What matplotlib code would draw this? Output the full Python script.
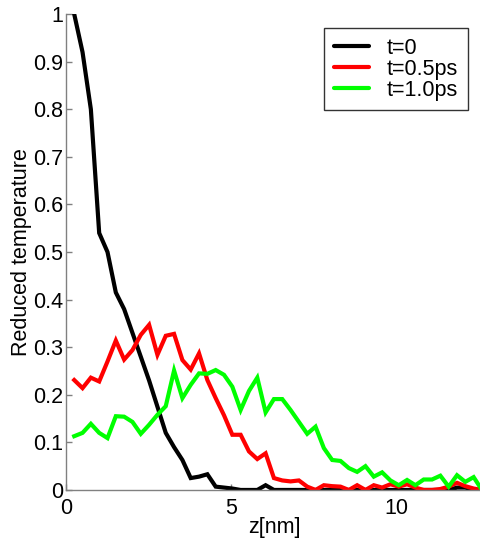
import numpy as np
import matplotlib.pyplot as plt

plt.rcParams['font.family'] = ['Liberation Sans', 'DejaVu Sans']

# grid spacing along z (nm), 50 slabs
dz = 0.252
k = np.arange(1, 51)
z = dz * k

t0 = [1.0, 0.92, 0.80, 0.54, 0.50, 0.415, 0.38, 0.33, 0.28, 0.23,
      0.175, 0.12, 0.09, 0.063, 0.025, 0.028, 0.033, 0.007, 0.005, 0.003,
      0.0, 0.0, 0.0, 0.01, 0.0, 0.0, 0.0, 0.0, 0.0, 0.0,
      0.0, 0.0, 0.0, 0.0, 0.0, 0.0, 0.0, 0.0, 0.0, 0.0,
      0.0, 0.0, 0.0, 0.0, 0.0, 0.0, 0.005, 0.005, 0.0, 0.0]

t05 = [0.231, 0.214, 0.236, 0.228, 0.27, 0.314, 0.274, 0.294, 0.326, 0.347,
       0.284, 0.324, 0.328, 0.273, 0.253, 0.287, 0.231, 0.193, 0.157, 0.116,
       0.116, 0.081, 0.065, 0.077, 0.025, 0.02, 0.018, 0.02, 0.007, 0.0,
       0.01, 0.008, 0.007, 0.0, 0.01, 0.0, 0.01, 0.005, 0.012, 0.007,
       0.012, 0.005, 0.0, 0.0, 0.002, 0.007, 0.015, 0.008, 0.003, 0.0]

t10 = [0.113, 0.12, 0.139, 0.12, 0.109, 0.155, 0.154, 0.143, 0.118, 0.137,
       0.158, 0.176, 0.251, 0.193, 0.221, 0.245, 0.244, 0.252, 0.242, 0.217,
       0.168, 0.208, 0.236, 0.163, 0.191, 0.191, 0.168, 0.143, 0.118, 0.133,
       0.088, 0.063, 0.061, 0.046, 0.038, 0.05, 0.028, 0.037, 0.02, 0.01,
       0.021, 0.01, 0.022, 0.022, 0.03, 0.007, 0.031, 0.017, 0.027, 0.0]

labels = ['t=0', 't=0.5ps', 't=1.0ps']
colors = ['black', 'red', '#00ff00']

fig = plt.figure(figsize=(4.81, 5.42), dpi=100)
ax = fig.add_axes([0.137, 0.096, 0.865, 0.878])

for y, lab, c in zip([t0, t05, t10], labels, colors):
    ax.plot(z, y, color=c, lw=3, label=lab, solid_joinstyle='miter')

ax.set_xlim(0, 12.6)
ax.set_ylim(0, 1)
ax.set_xticks([0, 5, 10])
ax.set_yticks(np.arange(0, 1.01, 0.1))
ax.set_yticklabels(['0', '0.1', '0.2', '0.3', '0.4', '0.5', '0.6', '0.7', '0.8', '0.9', '1'])

for s in ['top', 'right']:
    ax.spines[s].set_visible(False)
for s in ['left', 'bottom']:
    ax.spines[s].set_color('#808080')
    ax.spines[s].set_linewidth(1)
ax.tick_params(direction='in', length=4, width=1, color='#808080',
               labelsize=15.5, labelcolor='black')
ax.tick_params(axis='y', pad=2)
ax.tick_params(axis='x', pad=6)

ax.set_xlabel('z[nm]', fontsize=15.5, labelpad=-2)
ax.set_ylabel('Reduced temperature', fontsize=15.5, labelpad=1)

leg = ax.legend(loc='upper right', bbox_to_anchor=(0.966, 0.971), fontsize=15.5,
                frameon=True, fancybox=False, handlelength=1.6,
                borderpad=0.45, borderaxespad=0, labelspacing=0.0,
                handletextpad=0.85)
leg.get_frame().set_edgecolor('black')
leg.get_frame().set_linewidth(1)
for h in leg.get_lines():
    h.set_solid_capstyle('round')

fig.savefig('out.png', dpi=100)
